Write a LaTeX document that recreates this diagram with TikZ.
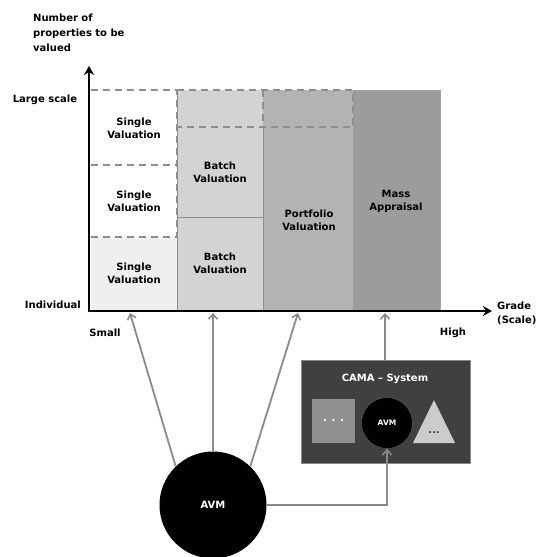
\documentclass[tikz,border=0pt]{standalone}
\usepackage{fontspec}
\setmainfont{DejaVu Sans}
\usetikzlibrary{arrows.meta}
\definecolor{cA}{HTML}{EFEFEF}
\definecolor{cB}{HTML}{D3D3D3}
\definecolor{cC}{HTML}{B3B3B3}
\definecolor{cD}{HTML}{9C9C9C}
\definecolor{lineG}{HTML}{8A8A8A}
\definecolor{dashG}{HTML}{8E8E8E}
\definecolor{camaBg}{HTML}{404040}
\tikzset{
  lbl/.style={font=\fontsize{10}{13}\selectfont\bfseries, align=center, inner sep=0pt},
  lbll/.style={font=\fontsize{10}{15}\selectfont\bfseries, align=left, inner sep=0pt},
  dashbox/.style={draw=dashG, line width=1.6pt, dash pattern=on 7pt off 5pt},
  sep/.style={draw=dashG, line width=0.8pt},
  axis/.style={line width=2.6pt, -{Stealth[length=9pt,width=10pt]}},
  conn/.style={draw=lineG, line width=1.8pt, -{Straight Barb[length=5pt,width=9pt,line width=1.6pt]}},
}
\begin{document}
\begin{tikzpicture}[x=1pt,y=-1pt]
\useasboundingbox (0,0) rectangle (538,557);
% column fills
\fill[cA] (91,237) rectangle (177,310);
\fill[white] (91,90) rectangle (177,237);
\fill[cB] (177,90) rectangle (263,310);
\fill[cC] (263,90) rectangle (353,310);
\fill[cD] (353,90) rectangle (440,310);
\draw[sep] (177,217) -- (263,217);
\draw[sep] (263,127) -- (263,310);
\draw[sep] (177,90) -- (177,310);
\draw[draw=dashG!80, line width=0.6pt] (440,90) -- (440,310) (353,90) -- (440,90);
% dashed boxes
\draw[dashbox] (91,90) -- (177,90) -- (177,237) -- (91,237);
\draw[dashbox] (91,165) -- (177,165);
\draw[dashbox] (177,90) -- (353,90) -- (353,127) -- (177,127);
\draw[dashbox] (263,90) -- (263,127);
% cell labels
\node[lbl] (sv1) at (134,128) {Single\\Valuation};
\node[lbl] (sv2) at (134,201) {Single\\Valuation};
\node[lbl] (sv3) at (134,273) {Single\\Valuation};
\node[lbl] (bv1) at (220,172) {Batch\\Valuation};
\node[lbl] (bv2) at (220,263) {Batch\\Valuation};
\node[lbl] (pv) at (309,220) {Portfolio\\Valuation};
\node[lbl] (ma) at (396,201) {Mass\\Appraisal};
% axes
\coordinate (o) at (89,311);
\coordinate (ytop) at (89,66);
\coordinate (xend) at (492,311);
\draw[axis] (89,312.3) -- (ytop);
\draw[axis] (87.7,311) -- (xend);
% axis labels
\node[lbll, anchor=north west] (ylab) at (33,14) {Number of\\properties to be\\valued};
\node[lbl] (large) at (45,100) {Large scale};
\node[lbl, anchor=east] (indiv) at (81,305) {Individual};
\node[lbl] (small) at (105,333) {Small};
\node[lbl] (high) at (453,333) {High};
\node[lbll, anchor=west, font=\fontsize{10}{14}\selectfont\bfseries] (grade) at (497,313) {Grade\\(Scale)};
% targets on x axis
\coordinate (t1) at (130,313);
\coordinate (t2) at (213,313);
\coordinate (t3) at (298,313);
\coordinate (t4) at (385,313);
% AVM big circle
\node[circle, fill=black, minimum size=107pt, inner sep=0pt, text=white, font=\fontsize{10}{12}\selectfont\bfseries] (avm) at (213,505) {AVM};
% CAMA system
\node[draw=lineG, line width=1pt, fill=camaBg, minimum width=169pt, minimum height=103pt, inner sep=0pt] (cama) at (385.5,411.5) {};
\node[lbl, text=white] (camat) at (385,379) {CAMA -- System};
\node[fill=lineG!95!white, minimum width=43pt, minimum height=44pt, inner sep=0pt, text=white, font=\bfseries] (sq) at (333.5,421) {. . .};
\node[circle, fill=black, draw=lineG!60!black, line width=0.6pt, minimum size=51pt, inner sep=0pt, text=white, font=\fontsize{7.5}{9}\selectfont\bfseries] (avm2) at (387,423) {AVM};
\fill[black!20] (413,443) -- (455,443) -- (434,400) -- cycle;
\node[font=\bfseries, text=camaBg, inner sep=0pt] (tri) at (434,433) {...};
% connectors
\draw[conn] (avm.134) -- (t1);
\draw[conn] (avm.north) -- (t2);
\draw[conn] (avm.46) -- (t3);
\draw[conn] (cama.north -| t4) -- (t4);
\draw[conn] (avm.east) -| (avm2.south);
\end{tikzpicture}
\end{document}
